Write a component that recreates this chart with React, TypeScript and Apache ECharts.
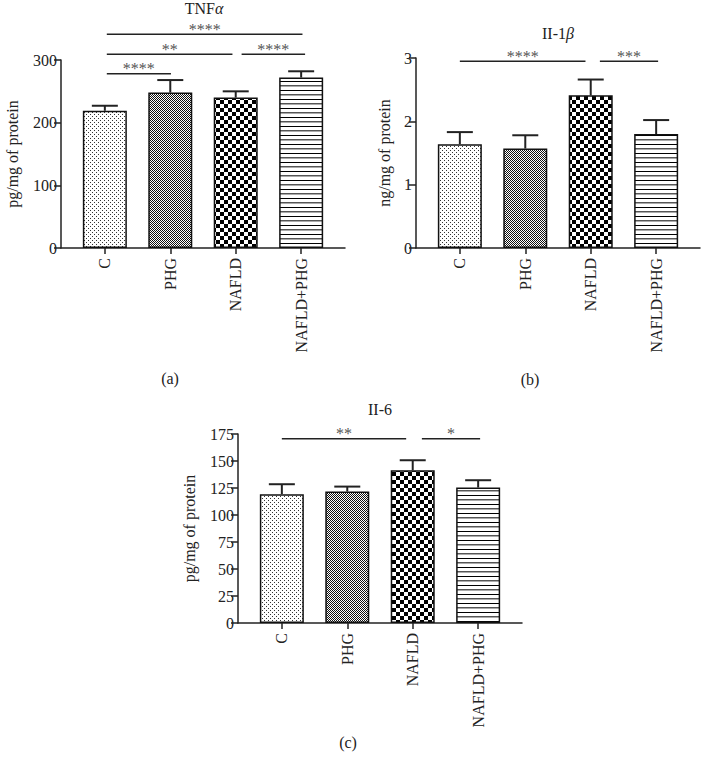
import React, { useEffect, useRef } from 'react';
import * as echarts from 'echarts';

const categories = ['C', 'PHG', 'NAFLD', 'NAFLD+PHG'];

const tnfMean = [219, 248, 240, 272];
const tnfErr = [8, 20, 10, 10];
const tnfTicks = { min: 0, max: 300, interval: 100 };

const il1bMean = [1.64, 1.57, 2.41, 1.8];
const il1bErr = [0.19, 0.21, 0.25, 0.22];
const il1bTicks = { min: 0, max: 3, interval: 1 };

const il6Mean = [119.3, 121.7, 141.4, 125.4];
const il6Err = [9.2, 4.6, 9.3, 6.8];
const il6Ticks = { min: 0, max: 175, interval: 25 };

// significance brackets: from/to in category-index units, y in data units
const tnfSig = [
  { from: 0.03, to: 3.02, y: 341, text: '****' },
  { from: 0.03, to: 1.95, y: 309, text: '**' },
  { from: 2.09, to: 3.06, y: 309, text: '****' },
  { from: 0.03, to: 1.01, y: 278, text: '****' },
];
const il1bSig = [
  { from: 0.0, to: 1.92, y: 2.95, text: '****' },
  { from: 2.14, to: 3.03, y: 2.95, text: '***' },
];
const il6Sig = [
  { from: 0.0, to: 1.9, y: 170.7, text: '**' },
  { from: 2.14, to: 3.03, y: 170.7, text: '*' },
];

const FONT = '"Liberation Serif", "DejaVu Serif", serif';
const INK = '#222';

function makeTile(w: number, h: number, draw: (ctx: CanvasRenderingContext2D) => void) {
  const c = document.createElement('canvas');
  c.width = w;
  c.height = h;
  const ctx = c.getContext('2d')!;
  ctx.fillStyle = '#fff';
  ctx.fillRect(0, 0, w, h);
  draw(ctx);
  return { image: c.toDataURL(), repeat: 'repeat', imageWidth: w, imageHeight: h } as any;
}

function makePatterns() {
  const dots = makeTile(4, 4, (ctx) => {
    ctx.fillStyle = '#333';
    ctx.fillRect(0, 0, 1, 1);
    ctx.fillRect(2, 2, 1, 1);
  });
  const fine = makeTile(2, 2, (ctx) => {
    ctx.fillStyle = '#111';
    ctx.fillRect(0, 0, 1, 1);
    ctx.fillRect(1, 1, 1, 1);
  });
  const coarse = makeTile(8, 8, (ctx) => {
    ctx.fillStyle = '#000';
    ctx.fillRect(0, 0, 4, 4);
    ctx.fillRect(4, 4, 4, 4);
  });
  const stripes = makeTile(4, 9, (ctx) => {
    ctx.fillStyle = '#000';
    ctx.fillRect(0, 0, 4, 1);
    ctx.fillStyle = '#555';
    ctx.fillRect(0, 4, 4, 1);
    ctx.fillStyle = '#aaa';
    ctx.fillRect(0, 5, 4, 1);
  });
  return [dots, fine, coarse, stripes];
}

const grids = [
  { left: 61, top: 60, width: 284, height: 188 },
  { left: 416, top: 58, width: 284, height: 190 },
  { left: 238, top: 434, width: 284, height: 189 },
];

const panels = [
  { mean: tnfMean, err: tnfErr, ticks: tnfTicks, sig: tnfSig, name: 'pg/mg of protein', nameGap: 41 },
  { mean: il1bMean, err: il1bErr, ticks: il1bTicks, sig: il1bSig, name: 'ng/mg of protein', nameGap: 24 },
  { mean: il6Mean, err: il6Err, ticks: il6Ticks, sig: il6Sig, name: 'pg/mg of protein', nameGap: 41 },
];

export default function App() {
  const ref = useRef<HTMLDivElement>(null);
  useEffect(() => {
    if (!ref.current) return;
    const chart = echarts.init(ref.current, undefined, { renderer: 'svg' });
    const patterns = makePatterns();
    const idx = [0, 1, 2, 3];

    const xAxis = panels.map((_, i) => ({
      type: 'value',
      gridIndex: i,
      min: -0.67,
      max: 3.67,
      axisLine: { show: true, onZero: false, lineStyle: { color: INK, width: 1.5 } },
      axisTick: { show: true, customValues: idx, length: 6, lineStyle: { color: INK, width: 1.5 } },
      axisLabel: {
        show: true,
        customValues: idx,
        rotate: 90,
        margin: 10,
        fontSize: 16,
        fontFamily: FONT,
        color: INK,
        formatter: (v: number) => categories[Math.round(v)] ?? '',
      },
      splitLine: { show: false },
    }));

    const yAxis = panels.map((p, i) => ({
      type: 'value',
      gridIndex: i,
      min: p.ticks.min,
      max: p.ticks.max,
      interval: p.ticks.interval,
      name: p.name,
      nameLocation: 'middle',
      nameGap: p.nameGap,
      nameTextStyle: { fontSize: 16, fontFamily: FONT, color: INK },
      axisLine: { show: true, onZero: false, lineStyle: { color: INK, width: 1.5 } },
      axisTick: { show: true, length: 7, lineStyle: { color: INK, width: 1.5 } },
      axisLabel: { margin: 4, fontSize: 16, fontFamily: FONT, color: INK },
      splitLine: { show: false },
    }));

    const series: any[] = [];
    panels.forEach((p, i) => {
      series.push({
        type: 'bar',
        xAxisIndex: i,
        yAxisIndex: i,
        barWidth: 44,
        data: p.mean.map((v, k) => ({
          value: [k, v],
          itemStyle: { color: patterns[k], borderColor: '#111', borderWidth: 1.5 },
        })),
        z: 2,
      });
      series.push({
        type: 'custom',
        xAxisIndex: i,
        yAxisIndex: i,
        clip: false,
        z: 3,
        data: p.mean.map((v, k) => [k, v, v + p.err[k]]),
        renderItem: (params: any, api: any) => {
          const x = api.value(0);
          const p0 = api.coord([x, api.value(1)]);
          const p1 = api.coord([x, api.value(2)]);
          const half = 13;
          const st = { stroke: INK, lineWidth: 2 };
          return {
            type: 'group',
            children: [
              { type: 'line', shape: { x1: p0[0], y1: p0[1], x2: p1[0], y2: p1[1] }, style: st },
              { type: 'line', shape: { x1: p1[0] - half, y1: p1[1], x2: p1[0] + half, y2: p1[1] }, style: st },
            ],
          };
        },
      });
      series.push({
        type: 'custom',
        xAxisIndex: i,
        yAxisIndex: i,
        clip: false,
        z: 3,
        data: p.sig.map((s) => [s.from, s.to, s.y]),
        renderItem: (params: any, api: any) => {
          const a = api.coord([api.value(0), api.value(2)]);
          const b = api.coord([api.value(1), api.value(2)]);
          const text = p.sig[params.dataIndex].text;
          return {
            type: 'group',
            children: [
              { type: 'line', shape: { x1: a[0], y1: a[1], x2: b[0], y2: b[1] }, style: { stroke: INK, lineWidth: 1.5 } },
              {
                type: 'text',
                x: (a[0] + b[0]) / 2,
                y: a[1] - 5,
                style: { text, fill: '#555', font: `16px ${FONT}`, align: 'center', verticalAlign: 'middle' },
              },
            ],
          };
        },
      });
    });

    const titleRich = {
      n: { fontSize: 16, fontFamily: FONT, fill: INK, color: INK },
      i: { fontSize: 16, fontFamily: FONT, fontStyle: 'italic', fill: INK, color: INK },
    };
    const textEl = (x: number, y: number, text: string) => ({
      type: 'text',
      x,
      y,
      style: { text, rich: titleRich, fill: INK, font: `16px ${FONT}`, align: 'center', verticalAlign: 'middle' },
    });

    chart.setOption({
      animation: false,
      textStyle: { fontFamily: FONT },
      grid: grids,
      xAxis,
      yAxis,
      series,
      graphic: [
        textEl(204, 8, '{n|TNF}{i|α}'),
        textEl(558, 33, '{n|II-1}{i|β}'),
        textEl(380, 409, '{n|II-6}'),
        textEl(170, 378, '{n|(a)}'),
        textEl(530, 379, '{n|(b)}'),
        textEl(348, 742, '{n|(c)}'),
      ],
    });
    return () => chart.dispose();
  }, []);
  return (
    <div
      ref={ref}
      style={{ position: 'absolute', left: 0, top: 0, width: 701, height: 762, background: '#fff' }}
    />
  );
}
